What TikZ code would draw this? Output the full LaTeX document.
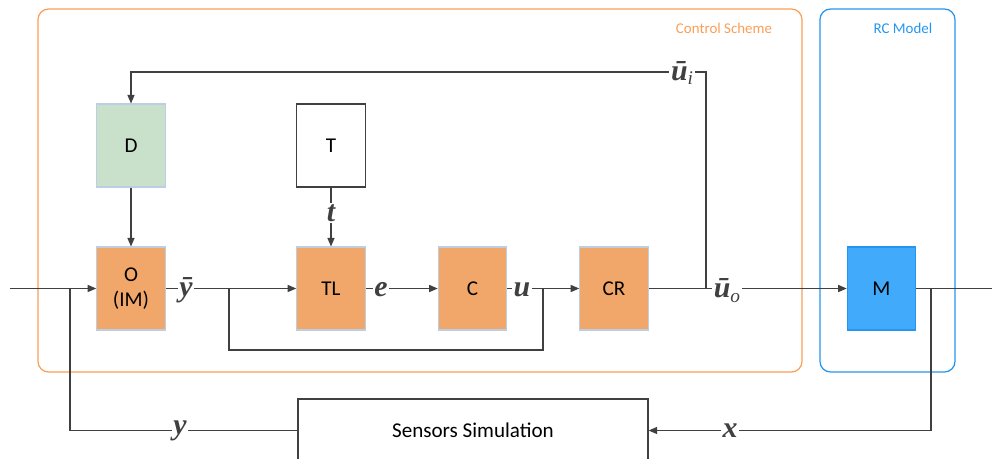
\documentclass[tikz,border=0pt]{standalone}
\usepackage{amsmath}
\usepackage{fontspec}
\setmainfont{Carlito}
\newfontfamily\sigfont{Liberation Serif}
\usetikzlibrary{arrows.meta}
\definecolor{blkorange}{RGB}{241,167,106}
\definecolor{blkedge}{RGB}{190,206,226}
\definecolor{blkgreen}{RGB}{201,225,203}
\definecolor{blkblue}{RGB}{66,170,250}
\definecolor{frmorange}{RGB}{250,158,88}
\definecolor{frmblue}{RGB}{36,150,240}
\definecolor{wire}{RGB}{64,64,64}
\newcommand{\sig}[1]{{\sigfont\bfseries\itshape #1}}
\newcommand{\sigsub}[1]{\raisebox{-0.35ex}{\sigfont\itshape\fontsize{11}{12}\selectfont #1}}

\begin{document}
\begin{tikzpicture}[
  x=0.02cm,y=-0.02cm,
  box/.style={draw=blkedge,line width=0.6pt,minimum width=1.37cm,
              minimum height=1.66cm,align=center,font=\fontsize{12}{14}\selectfont},
  arr/.style={-{Triangle[length=1.7mm,width=1.4mm]},line width=0.7pt,wire},
  wr/.style={line width=0.7pt,wire},
  lbl/.style={fill=white,inner sep=1pt,text=wire,font=\fontsize{17}{20}\selectfont},
  frame/.style={rounded corners=6pt,line width=0.7pt}
]
\useasboundingbox (0,0) rectangle (992,458);
\clip (0,0) rectangle (992,458);
% frames
\draw[frame,frmorange] (38,9) rectangle (802,372);
\draw[frame,frmblue] (820,9) rectangle (955,372);
\node[text=frmorange,font=\fontsize{8.5}{10}\selectfont] (cslbl) at (724,28) {Control Scheme};
\node[text=frmblue,font=\fontsize{8.5}{10}\selectfont] (rclbl) at (903,28) {RC Model};
% blocks
\node[box,fill=blkgreen] (dec) at (131,145.5) {D};
\node[box,draw=wire,line width=0.7pt,fill=white] (traj) at (331,145.5) {T};
\node[box,fill=blkorange] (obs) at (131,288.5) {O\\(IM)};
\node[box,fill=blkorange] (tl) at (331,288.5) {TL};
\node[box,fill=blkorange] (ctrl) at (472.5,288.5) {C};
\node[box,fill=blkorange] (cr) at (614,288.5) {CR};
\node[box,draw=frmblue,fill=blkblue] (model) at (881.5,288.5) {M};
\node[draw=wire,line width=0.7pt,minimum width=7cm,minimum height=1.26cm,
      font=\fontsize{12}{14}\selectfont] (sens) at (473,430.5) {Sensors Simulation};
% junctions
\coordinate (in) at (10,288.5);
\coordinate (fb) at (70,288.5);
\coordinate (b1) at (229,288.5);
\coordinate (b2) at (543,288.5);
\coordinate (c1) at (706,288.5);
\coordinate (c2) at (706,72);
\coordinate (m1) at (931,288.5);
\coordinate (out) at (992,288.5);
% wires
\draw[arr] (in) -- (obs);
\draw[arr] (dec) -- (obs);
\draw[arr] (traj) -- (tl);
\draw[arr] (obs) -- (tl);
\draw[wr] (b1) |- (229,350) -| (b2);
\draw[arr] (tl) -- (ctrl);
\draw[arr] (ctrl) -- (cr);
\draw[arr] (cr) -- (model);
\draw[arr] (c1) -- (c2) -| (dec);
\draw[wr] (model) -- (out);
\draw[arr] (m1) |- (sens);
\draw[wr] (sens) -| (fb);
% signal labels
\node[lbl] (ybar) at (186,290) {\sig{\=y}};
\node[lbl] (tlbl) at (331,213) {\sig{t}};
\node[lbl] (elbl) at (381,290) {\sig{e}};
\node[lbl] (ulbl) at (522,290) {\sig{u}};
\node[lbl] (uo) at (727,291) {\sig{\=u}\sigsub{o}};
\node[lbl] (ui) at (682,73) {\sig{\=u}\sigsub{i}};
\node[lbl] (ylbl) at (180,431) {\sig{y}};
\node[lbl] (xlbl) at (730,431) {\sig{x}};
\end{tikzpicture}
\end{document}
